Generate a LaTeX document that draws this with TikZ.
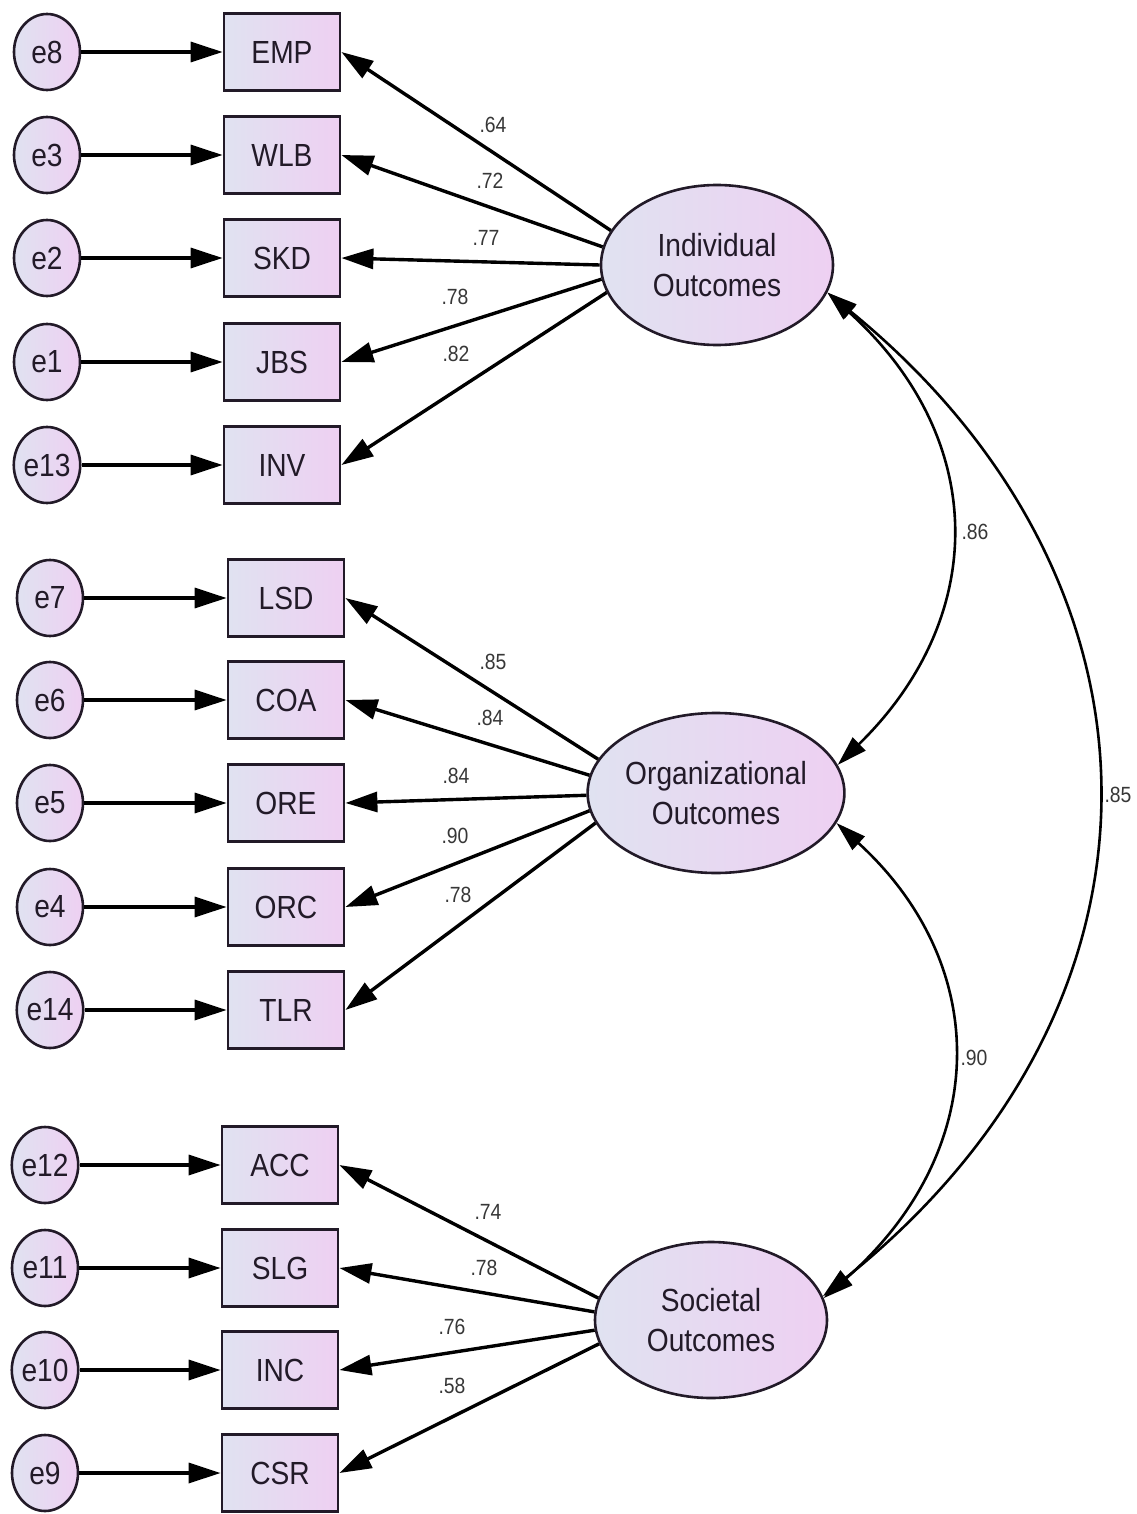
\documentclass[tikz,border=0pt]{standalone}
\usepackage{fontspec}
\setmainfont{Liberation Sans}[FakeStretch=0.88]
\usetikzlibrary{arrows.meta,shapes.geometric}

\definecolor{fillL}{RGB}{224,226,241}
\definecolor{fillR}{RGB}{238,208,242}
\definecolor{ink}{RGB}{34,26,40}
\definecolor{lbl}{RGB}{55,55,55}

\begin{document}
\begin{tikzpicture}[x=0.5pt,y=-0.5pt,
  shade/.style={left color=fillL, right color=fillR},
  obs/.style={shade, draw=ink, line width=1.4pt, minimum width=58pt,
    minimum height=38.5pt, inner sep=0pt, text=ink,
    font=\fontsize{16}{20}\selectfont},
  err/.style={shade, ellipse, draw=ink, line width=1.3pt, minimum width=33pt,
    minimum height=38pt, inner sep=0pt, text=ink,
    font=\fontsize{16}{20}\selectfont},
  lat/.style={shade, ellipse, draw=ink, line width=1.3pt, minimum width=116pt,
    minimum height=80pt, inner sep=0pt, align=center, text=ink,
    font=\fontsize{16}{20}\selectfont},
  arr/.style={draw=black, line width=1.7pt, -{Triangle[length=16pt,width=10pt]}},
  cov/.style={draw=black, line width=1.3pt,
    {Triangle[length=15pt,width=9pt]}-{Triangle[length=15pt,width=9pt]}},
  val/.style={text=lbl, inner sep=0pt, font=\fontsize{11}{13}\selectfont}
]
\useasboundingbox (0,0) rectangle (1136,1514);

% latent factors
\node[lat] (ind) at (717,265) {Individual\\Outcomes};
\node[lat] (org) at (716,793) {Organizational\\Outcomes};
\node[lat, minimum height=78pt] (soc) at (711,1320) {Societal\\Outcomes};

% indicators of Individual Outcomes
\node[obs] (EMP) at (282,52)  {EMP};
\node[obs] (WLB) at (282,155) {WLB};
\node[obs] (SKD) at (282,258) {SKD};
\node[obs] (JBS) at (282,362) {JBS};
\node[obs] (INV) at (282,465) {INV};
% indicators of Organizational Outcomes
\node[obs] (LSD) at (286,598)  {LSD};
\node[obs] (COA) at (286,700)  {COA};
\node[obs] (ORE) at (286,803)  {ORE};
\node[obs] (ORC) at (286,907)  {ORC};
\node[obs] (TLR) at (286,1010) {TLR};
% indicators of Societal Outcomes
\node[obs] (ACC) at (280,1165) {ACC};
\node[obs] (SLG) at (280,1268) {SLG};
\node[obs] (INC) at (280,1370) {INC};
\node[obs] (CSR) at (280,1473) {CSR};

% error terms
\node[err] (e8)  at (47,52)   {e8};
\node[err] (e3)  at (47,155)  {e3};
\node[err] (e2)  at (47,258)  {e2};
\node[err] (e1)  at (47,362)  {e1};
\node[err] (e13) at (47,465)  {e13};
\node[err] (e7)  at (50,598)  {e7};
\node[err] (e6)  at (50,700)  {e6};
\node[err] (e5)  at (50,803)  {e5};
\node[err] (e4)  at (50,907)  {e4};
\node[err] (e14) at (50,1010) {e14};
\node[err] (e12) at (45,1165) {e12};
\node[err] (e11) at (45,1268) {e11};
\node[err] (e10) at (45,1370) {e10};
\node[err] (e9)  at (45,1473) {e9};

% error paths
\foreach \e/\o in {e8/EMP,e3/WLB,e2/SKD,e1/JBS,e13/INV,e7/LSD,e6/COA,e5/ORE,
                   e4/ORC,e14/TLR,e12/ACC,e11/SLG,e10/INC,e9/CSR}
  \draw[arr] (\e) -- (\o);

% factor loadings
\draw[arr] (ind.162) -- (EMP.east);
\draw[arr] (ind.171) -- (WLB.east);
\draw[arr] (ind.180) -- (SKD.east);
\draw[arr] (ind.187) -- (JBS.east);
\draw[arr] (ind.194) -- (INV.east);

\draw[arr] (org.164) -- (LSD.east);
\draw[arr] (org.172) -- (COA.east);
\draw[arr] (org.181) -- (ORE.east);
\draw[arr] (org.188) -- (ORC.east);
\draw[arr] (org.194) -- (TLR.east);

\draw[arr] (soc.169) -- (ACC.east);
\draw[arr] (soc.176) -- (SLG.east);
\draw[arr] (soc.185) -- (INC.east);
\draw[arr] (soc.192) -- (CSR.east);

% loading values
\node[val] (l1)  at (493,125)  {.64};
\node[val] (l2)  at (490,181)  {.72};
\node[val] (l3)  at (486,238)  {.77};
\node[val] (l4)  at (455,297)  {.78};
\node[val] (l5)  at (456,354)  {.82};
\node[val] (l6)  at (493,662)  {.85};
\node[val] (l7)  at (490,718)  {.84};
\node[val] (l8)  at (456,776)  {.84};
\node[val] (l9)  at (455,836)  {.90};
\node[val] (l10) at (458,895)  {.78};
\node[val] (l11) at (488,1212) {.74};
\node[val] (l12) at (484,1268) {.78};
\node[val] (l13) at (452,1327) {.76};
\node[val] (l14) at (452,1386) {.58};

% factor correlations
\draw[cov] (ind.-14) .. controls (990,440) and (988,618) .. (org.13);
\draw[cov] (org.-14) .. controls (992,965) and (992,1150) .. (soc.11);
\draw[cov] (ind.-14) .. controls (1180,580) and (1192,1000) .. (soc.12);

\node[val] (c1) at (975,532)  {.86};
\node[val] (c2) at (1118,795) {.85};
\node[val] (c3) at (974,1058) {.90};
\end{tikzpicture}
\end{document}
